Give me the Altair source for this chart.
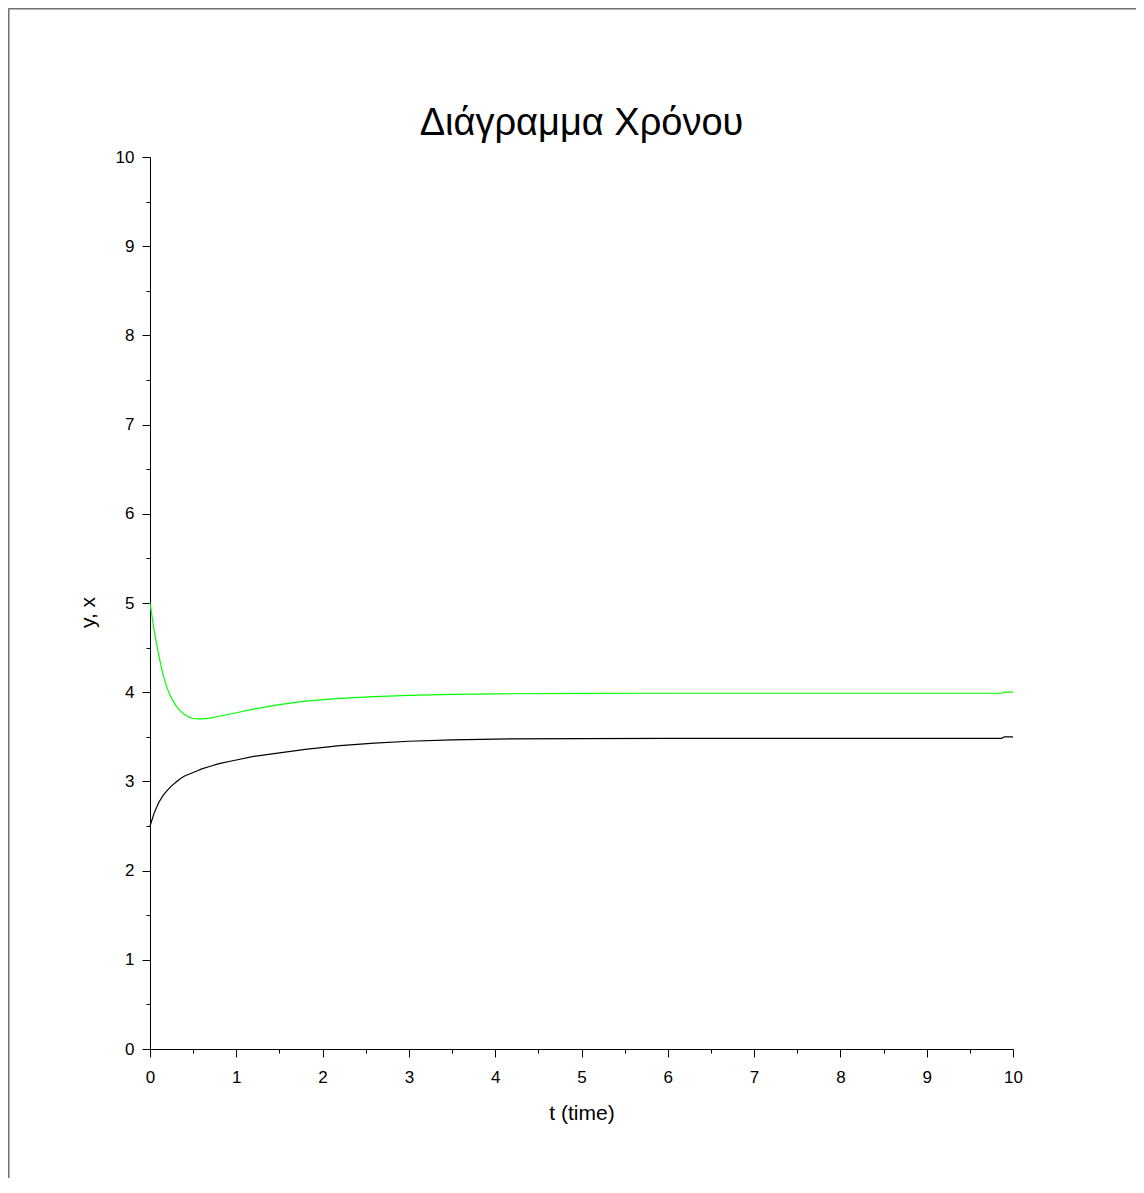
import altair as alt
import pandas as pd

# ---- data ----
t_vals = [0, 0.05, 0.1, 0.15, 0.2, 0.25, 0.3, 0.35, 0.4, 0.45, 0.5, 0.55, 0.6,
          0.7, 0.8, 1.0, 1.2, 1.5, 1.8, 2.2, 2.6, 3.0, 3.5, 4.0, 5, 6, 7, 8, 9,
          9.87, 9.9, 10]
y_vals = [5.0, 4.68, 4.42, 4.2, 4.04, 3.93, 3.85, 3.79, 3.75, 3.72, 3.705, 3.70,
          3.70, 3.71, 3.73, 3.77, 3.81, 3.86, 3.90, 3.93, 3.95, 3.965, 3.975,
          3.982, 3.986, 3.988, 3.988, 3.988, 3.988, 3.988, 4.0, 4.0]
x_vals = [2.5, 2.65, 2.76, 2.84, 2.90, 2.95, 2.99, 3.03, 3.06, 3.08, 3.10, 3.12,
          3.14, 3.17, 3.20, 3.24, 3.28, 3.32, 3.36, 3.40, 3.43, 3.45, 3.465,
          3.475, 3.48, 3.482, 3.483, 3.483, 3.483, 3.483, 3.5, 3.5]
major_ticks = list(range(0, 11))
minor_ticks = [i + 0.5 for i in range(10)]

title_text = "Διάγραμμα Χρόνου"
x_title = "t (time)"
y_title = "y, x"

df = pd.DataFrame({
    "t": t_vals * 2,
    "v": y_vals + x_vals,
    "s": ["y"] * len(t_vals) + ["x"] * len(t_vals),
})

W, H = 863, 892
FONT = "Liberation Sans"

xs = alt.Scale(domain=[0, 10], nice=False, zero=False)
ys = alt.Scale(domain=[0, 10], nice=False, zero=False)

lines = alt.Chart(df).mark_line(strokeWidth=1.2).encode(
    x=alt.X("t:Q", scale=xs, axis=alt.Axis(
        values=major_ticks, tickSize=8, labelPadding=12, labelFlush=False,
        labelOverlap=False, format="d", title=x_title,
        titleX=W / 2, titleY=64, titleBaseline="middle", titleFontWeight="normal")),
    y=alt.Y("v:Q", scale=ys, axis=alt.Axis(
        values=major_ticks, tickSize=8, labelPadding=8, labelFlush=False,
        labelOverlap=False, format="d", title=y_title,
        titleX=-62, titleY=455, titleBaseline="middle", titleAngle=270,
        titleFontWeight="normal")),
    color=alt.Color("s:N", scale=alt.Scale(domain=["y", "x"], range=["#00ff00", "#000000"]),
                    legend=None),
    detail="s:N",
    order="t:Q",
)

minor = alt.Chart(df).mark_point(opacity=0).encode(
    x=alt.X("t:Q", scale=xs, axis=alt.Axis(
        orient="bottom", values=minor_ticks, tickSize=4, labels=False,
        domain=False, title=None)),
    y=alt.Y("v:Q", scale=ys, axis=alt.Axis(
        orient="left", values=minor_ticks, tickSize=4, labels=False,
        domain=False, title=None)),
)

one = pd.DataFrame({"a": [0]})
frame_top = alt.Chart(one).mark_rule(stroke="#707070", strokeWidth=2).encode(
    x=alt.value(-141.5), x2=alt.value(2000), y=alt.value(-148.5),
)
frame_left = alt.Chart(one).mark_rule(stroke="#707070", strokeWidth=2).encode(
    x=alt.value(-141.5), y=alt.value(-148.5), y2=alt.value(2000),
)
title_mark = alt.Chart(one).mark_text(
    text=title_text, font=FONT, fontSize=38, color="#000000",
    align="center", baseline="alphabetic",
).encode(x=alt.value(W / 2), y=alt.value(-22))

chart = alt.layer(frame_top, frame_left, title_mark, lines, minor).resolve_scale(
    x="independent", y="independent"
).properties(
    width=W, height=H,
    autosize=alt.AutoSizeParams(type="none"),
    padding={"left": 142, "top": 149, "right": 123, "bottom": 129},
).configure_view(stroke=None).configure_axis(
    domainColor="#000000", tickColor="#000000", labelColor="#000000",
    titleColor="#000000", labelFont=FONT, titleFont=FONT,
    labelFontSize=17, titleFontSize=21, grid=False, domainWidth=1, tickWidth=1,
)

chart.save("out.html", embed_options={"renderer": "svg", "actions": False})
